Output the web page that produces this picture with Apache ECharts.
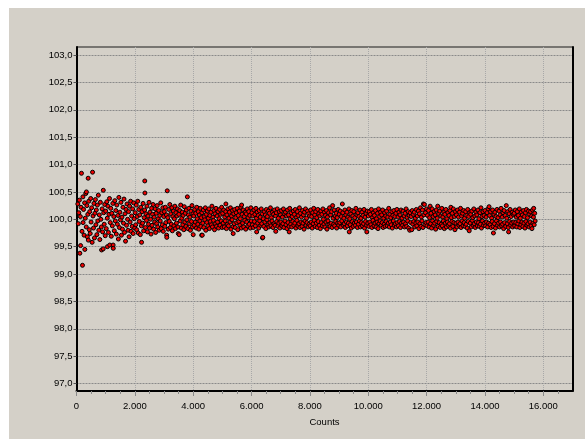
<!DOCTYPE html>
<html><head><meta charset="utf-8">
<script src="https://cdn.jsdelivr.net/npm/echarts@6/dist/echarts.min.js"></script>
<style>html,body{margin:0;padding:0;background:#fff}#c{width:585px;height:439px}</style>
</head><body><div id="c"></div>
<script>
const xTickLabels = [0, 2000, 4000, 6000, 8000, 10000, 12000, 14000, 16000];
const yTickLabels = [97.0, 97.5, 98.0, 98.5, 99.0, 99.5, 100.0, 100.5, 101.0, 101.5, 102.0, 102.5, 103.0];
const xAxisTitle = "Counts";

const seg00 = [[45,100.28],[62,99.92],[80,100.12],[98,100.35],[115,99.38],[132,100.05],[140,99.52],[155,100.22],[170,100.84],[188,99.78],[205,99.16],[220,100.41],[225,99.94],[242,100.18],[260,99.71],[278,100.30],[285,99.45],[300,100.02],[318,100.47],[334,99.86],[340,100.50],[356,100.25],[372,99.68],[388,100.09],[400,100.75],[405,99.62],[420,100.33],[438,99.81],[452,100.14],[470,99.74],[486,100.38],[500,99.95],[518,100.21],[535,99.58],[550,100.86],[566,100.06],[582,99.84],[598,100.29],[615,99.66],[632,100.11],[648,100.36],[665,99.90],[680,100.17],[698,99.72],[715,100.26],[730,99.97],[748,100.44],[765,99.80],[782,100.08],[800,99.63],[818,100.31],[835,100.00],[850,99.86],[860,99.44],[878,100.19],[895,99.77],[915,99.46],[918,100.53],[932,100.12],[950,99.91],[968,100.27],[985,99.70]];
const seg01 = [[1002,100.15],[1020,99.83],[1038,100.32],[1055,100.02],[1060,99.50],[1078,100.24],[1095,99.76],[1112,100.09],[1130,100.38],[1140,99.53],[1158,99.94],[1175,100.20],[1192,99.69],[1210,100.11],[1228,99.88],[1245,100.29],[1255,99.53],[1260,99.47],[1278,100.05],[1295,99.79],[1312,100.34],[1330,99.97],[1348,100.16],[1365,99.73],[1382,100.26],[1400,99.91],[1418,100.07],[1435,99.64],[1452,100.40],[1470,99.85],[1488,100.13],[1505,99.99],[1522,100.31],[1540,99.71],[1558,100.04],[1575,99.82],[1592,100.22],[1610,99.93],[1628,100.37],[1645,99.76],[1662,100.10],[1680,99.60],[1698,100.18],[1715,99.89],[1732,100.28],[1750,100.00],[1768,99.80],[1785,100.14],[1802,99.68],[1820,100.24],[1838,99.95],[1855,100.33],[1872,99.78],[1890,100.06],[1908,99.87],[1925,100.19],[1942,99.74],[1960,100.30],[1978,100.01],[1995,99.84]];
const seg02 = [[2012,100.12],[2030,99.90],[2048,100.26],[2065,99.81],[2082,100.05],[2100,100.33],[2118,99.75],[2135,100.18],[2152,99.96],[2170,100.08],[2188,99.72],[2205,100.22],[2222,99.88],[2230,99.58],[2248,100.14],[2265,99.93],[2282,100.29],[2300,99.79],[2318,100.03],[2335,100.17],[2340,100.70],[2345,100.48],[2362,99.85],[2380,100.10],[2398,99.98],[2415,100.24],[2432,99.77],[2450,100.06],[2468,99.91],[2485,100.31],[2502,99.84],[2520,100.13],[2538,100.00],[2555,99.73],[2572,100.20],[2590,99.89],[2608,100.09],[2625,100.27],[2642,99.82],[2660,100.04],[2678,99.95],[2695,100.19],[2712,99.76],[2730,100.11],[2748,99.92],[2765,100.25],[2782,99.86],[2800,100.01],[2818,100.16],[2835,99.80],[2852,100.07],[2870,99.97],[2888,100.30],[2905,99.83],[2922,100.12],[2940,99.90],[2958,100.21],[2975,99.78],[2992,100.05]];
const seg03 = [[3010,100.14],[3028,99.87],[3045,100.22],[3062,99.94],[3080,100.08],[3090,99.71],[3095,99.67],[3110,100.52],[3128,100.03],[3145,99.82],[3162,100.18],[3180,99.96],[3198,100.27],[3215,99.85],[3232,100.10],[3250,99.91],[3268,100.21],[3285,99.79],[3302,100.05],[3320,100.15],[3338,99.88],[3355,100.01],[3372,100.24],[3390,99.83],[3408,100.12],[3425,99.93],[3442,100.06],[3460,100.19],[3478,99.86],[3490,99.74],[3508,100.09],[3520,99.72],[3538,100.16],[3555,99.97],[3572,100.26],[3590,99.84],[3608,100.02],[3625,100.13],[3642,99.90],[3660,100.07],[3678,99.81],[3695,100.23],[3712,99.95],[3730,100.11],[3748,99.87],[3765,100.17],[3782,99.99],[3800,100.41],[3818,99.83],[3835,100.08],[3852,100.20],[3870,99.92],[3888,100.04],[3905,99.80],[3922,100.15],[3940,99.96],[3958,100.25],[3975,99.86],[3992,100.10]];
const seg04 = [[4000,99.72],[4018,100.06],[4035,99.89],[4052,100.18],[4070,99.95],[4088,100.11],[4105,99.84],[4122,100.22],[4140,100.01],[4158,99.91],[4175,100.14],[4192,99.82],[4210,100.08],[4228,99.97],[4245,100.20],[4262,99.87],[4280,100.03],[4290,99.71],[4298,100.12],[4310,99.71],[4328,99.93],[4345,100.17],[4362,99.85],[4380,100.05],[4398,99.99],[4415,100.21],[4432,99.80],[4450,100.09],[4468,99.94],[4485,100.15],[4502,99.88],[4520,100.02],[4538,100.19],[4555,99.83],[4572,100.07],[4590,99.96],[4608,100.13],[4625,99.90],[4642,100.24],[4660,99.86],[4678,100.04],[4695,99.98],[4712,100.16],[4730,99.81],[4748,100.10],[4765,99.92],[4782,100.20],[4800,99.87],[4818,100.06],[4835,99.95],[4852,100.14],[4870,99.84],[4888,100.01],[4905,100.18],[4922,99.89],[4940,100.09],[4958,99.97],[4975,100.22],[4992,99.85]];
const seg05 = [[5010,100.11],[5028,99.93],[5045,100.17],[5062,99.86],[5080,100.04],[5098,99.97],[5115,100.14],[5120,100.28],[5138,99.83],[5155,100.08],[5172,99.91],[5190,100.19],[5208,99.88],[5225,100.02],[5242,100.13],[5260,99.95],[5278,100.21],[5295,99.82],[5312,100.06],[5330,99.99],[5348,100.16],[5365,99.87],[5370,99.74],[5388,100.10],[5405,99.92],[5422,100.18],[5440,99.85],[5458,100.03],[5475,100.12],[5492,99.94],[5510,100.20],[5528,99.81],[5545,100.07],[5562,99.96],[5580,100.15],[5598,99.89],[5615,100.01],[5632,100.22],[5650,99.84],[5660,100.26],[5678,100.09],[5695,99.93],[5712,100.17],[5730,99.86],[5748,100.05],[5765,99.98],[5782,100.13],[5800,99.82],[5818,100.10],[5835,99.95],[5852,100.19],[5870,99.88],[5888,100.03],[5905,100.14],[5922,99.91],[5940,100.07],[5958,99.84],[5975,100.21],[5992,99.97]];
const seg06 = [[6010,100.12],[6028,99.90],[6045,100.06],[6062,99.85],[6080,100.17],[6098,99.96],[6115,100.09],[6132,99.88],[6150,100.20],[6168,100.02],[6175,99.77],[6192,100.13],[6210,99.93],[6228,100.07],[6245,99.84],[6262,100.16],[6280,99.97],[6298,100.04],[6315,99.89],[6332,100.19],[6350,99.92],[6368,100.10],[6375,99.66],[6385,99.67],[6402,100.01],[6420,99.87],[6438,100.14],[6455,99.95],[6472,100.08],[6490,99.83],[6508,100.18],[6525,99.99],[6542,100.05],[6560,99.90],[6578,100.15],[6595,99.86],[6612,100.11],[6630,99.94],[6648,100.21],[6665,99.88],[6682,100.03],[6700,99.97],[6718,100.13],[6735,99.85],[6752,100.09],[6770,99.92],[6788,100.17],[6805,99.89],[6822,100.06],[6830,99.78],[6848,100.12],[6865,99.96],[6882,100.19],[6900,99.87],[6918,100.02],[6935,99.93],[6952,100.14],[6970,99.84],[6988,100.08]];
const seg07 = [[7005,99.95],[7022,100.16],[7040,99.88],[7058,100.04],[7075,99.92],[7092,100.19],[7110,99.85],[7128,100.10],[7145,99.97],[7162,100.13],[7180,99.90],[7198,100.06],[7215,99.83],[7232,100.17],[7250,99.94],[7268,100.08],[7285,99.87],[7290,99.77],[7308,100.20],[7325,100.01],[7342,99.91],[7360,100.12],[7378,99.86],[7395,100.05],[7412,99.96],[7430,100.15],[7448,99.89],[7465,100.09],[7482,99.93],[7500,100.18],[7518,99.84],[7535,100.03],[7552,99.98],[7570,100.14],[7588,99.88],[7605,100.07],[7622,99.92],[7640,100.21],[7658,99.85],[7675,100.11],[7692,99.95],[7710,100.04],[7728,99.87],[7745,100.16],[7762,99.93],[7780,100.08],[7798,99.82],[7815,100.13],[7832,99.97],[7850,100.19],[7868,99.89],[7885,100.02],[7902,99.94],[7920,100.15],[7938,99.86],[7955,100.10],[7972,99.91],[7990,100.06]];
const seg08 = [[8008,99.88],[8025,100.17],[8042,99.95],[8060,100.05],[8078,99.84],[8095,100.12],[8112,99.92],[8130,100.20],[8148,99.98],[8165,100.08],[8182,99.87],[8200,100.14],[8218,99.93],[8235,100.03],[8252,99.85],[8270,100.18],[8288,99.96],[8305,100.10],[8322,99.89],[8340,100.06],[8358,99.83],[8375,100.15],[8392,99.94],[8410,100.09],[8428,99.88],[8445,100.19],[8462,100.00],[8480,99.91],[8498,100.13],[8515,99.86],[8532,100.07],[8550,99.95],[8568,100.16],[8585,99.82],[8602,100.04],[8620,99.97],[8638,100.12],[8655,99.90],[8672,100.21],[8690,99.87],[8708,100.08],[8725,99.93],[8742,100.14],[8760,99.85],[8778,100.25],[8795,100.02],[8812,99.91],[8830,100.17],[8848,99.88],[8865,100.06],[8882,99.96],[8900,100.11],[8918,99.84],[8935,100.03],[8952,99.93],[8970,100.18],[8988,99.89]];
const seg09 = [[9005,100.09],[9022,99.94],[9040,100.15],[9058,99.86],[9075,100.05],[9092,99.97],[9112,100.28],[9128,100.12],[9145,99.89],[9162,100.02],[9180,99.92],[9198,100.17],[9215,99.85],[9232,100.08],[9250,99.95],[9268,100.13],[9285,99.88],[9302,100.04],[9320,99.93],[9338,100.19],[9348,99.77],[9365,100.01],[9382,99.90],[9400,100.10],[9418,99.84],[9435,100.16],[9452,99.96],[9470,100.06],[9488,99.87],[9505,100.14],[9522,99.93],[9540,100.03],[9558,99.89],[9575,100.20],[9592,99.95],[9610,100.08],[9628,99.85],[9645,100.12],[9662,99.91],[9680,100.05],[9698,99.97],[9715,100.17],[9732,99.86],[9750,100.02],[9768,99.94],[9785,100.13],[9802,99.88],[9820,100.07],[9838,99.92],[9855,100.18],[9872,99.84],[9890,100.04],[9908,99.96],[9925,100.11],[9942,99.89],[9950,99.77],[9968,100.15],[9985,99.93]];
const seg10 = [[10002,100.06],[10020,99.87],[10038,100.14],[10055,99.95],[10072,100.09],[10090,99.90],[10108,100.18],[10125,99.85],[10142,100.03],[10160,99.98],[10178,100.12],[10195,99.88],[10212,100.07],[10230,99.93],[10248,100.16],[10265,99.86],[10282,100.01],[10300,99.95],[10318,100.11],[10335,99.83],[10352,100.19],[10370,99.92],[10388,100.05],[10405,99.97],[10422,100.13],[10440,99.89],[10458,100.08],[10475,99.94],[10492,100.17],[10510,99.85],[10528,100.02],[10545,99.91],[10562,100.12],[10580,99.87],[10598,100.06],[10615,99.96],[10632,100.15],[10650,99.88],[10668,100.04],[10685,99.93],[10702,100.20],[10720,99.86],[10738,100.09],[10755,99.95],[10772,100.03],[10790,99.90],[10808,100.14],[10825,99.84],[10842,100.07],[10860,99.97],[10878,100.16],[10895,99.89],[10912,100.05],[10930,99.92],[10948,100.11],[10965,99.86],[10982,100.18],[10998,99.94]];
const seg11 = [[11018,100.04],[11035,99.88],[11052,100.13],[11070,99.96],[11088,100.08],[11105,99.85],[11122,100.17],[11140,99.93],[11158,100.02],[11175,99.89],[11192,100.15],[11210,99.95],[11228,100.06],[11245,99.86],[11262,100.11],[11280,99.92],[11298,100.19],[11315,99.87],[11332,100.03],[11350,99.97],[11368,100.14],[11385,99.84],[11402,100.07],[11420,99.80],[11438,100.12],[11455,99.94],[11472,100.05],[11490,99.81],[11508,100.16],[11525,99.91],[11542,100.09],[11560,99.96],[11578,100.13],[11595,99.86],[11612,100.02],[11630,99.93],[11648,100.18],[11665,99.88],[11682,100.06],[11700,99.95],[11718,100.15],[11735,99.83],[11752,100.10],[11770,99.92],[11788,100.21],[11805,99.87],[11822,100.04],[11840,99.97],[11858,100.17],[11875,99.85],[11890,100.28],[11908,100.08],[11925,100.27],[11942,99.90],[11960,100.12],[11978,99.94],[11995,100.19]];
const seg12 = [[12012,99.88],[12030,100.07],[12048,99.95],[12065,100.16],[12082,99.86],[12100,100.03],[12120,100.24],[12135,99.92],[12152,100.11],[12170,99.84],[12188,100.19],[12205,99.97],[12222,100.05],[12240,99.89],[12258,100.14],[12275,99.93],[12292,100.08],[12310,99.82],[12328,100.17],[12345,99.96],[12362,100.02],[12380,100.24],[12398,99.87],[12415,100.10],[12432,99.94],[12450,100.15],[12468,99.85],[12485,100.06],[12502,99.91],[12520,100.20],[12538,99.88],[12555,100.04],[12572,99.97],[12590,100.13],[12608,99.83],[12625,100.09],[12642,99.93],[12660,100.18],[12678,99.86],[12695,100.01],[12712,99.95],[12730,100.12],[12748,99.89],[12765,100.07],[12782,99.92],[12800,100.16],[12818,99.84],[12830,100.22],[12848,100.03],[12865,99.96],[12882,100.11],[12900,99.87],[12918,100.19],[12935,99.94],[12952,100.05],[12970,99.81],[12988,100.14]];
const seg13 = [[13005,99.93],[13022,100.08],[13040,99.86],[13058,100.17],[13075,99.95],[13092,100.04],[13110,99.89],[13128,100.13],[13145,99.92],[13162,100.20],[13180,99.85],[13198,100.06],[13215,99.97],[13232,100.11],[13250,99.88],[13268,100.16],[13285,99.94],[13302,100.02],[13320,99.87],[13338,100.14],[13355,99.91],[13372,100.07],[13390,99.84],[13408,100.18],[13425,99.96],[13442,100.05],[13460,99.79],[13478,100.12],[13495,99.93],[13512,100.09],[13530,99.86],[13548,100.15],[13565,99.98],[13582,100.03],[13600,99.89],[13618,100.19],[13635,99.92],[13652,100.06],[13670,99.85],[13688,100.13],[13705,99.95],[13722,100.08],[13740,99.88],[13758,100.17],[13775,99.94],[13792,100.01],[13810,99.87],[13828,100.12],[13845,99.91],[13862,100.21],[13880,99.84],[13898,100.05],[13915,99.97],[13932,100.14],[13950,99.89],[13968,100.07],[13985,99.93]];
const seg14 = [[14002,100.16],[14020,99.88],[14038,100.04],[14055,99.95],[14072,100.12],[14090,99.86],[14108,100.19],[14125,99.93],[14140,100.23],[14158,100.07],[14175,99.90],[14192,100.14],[14210,99.85],[14228,100.02],[14245,99.96],[14262,100.17],[14280,99.87],[14290,99.75],[14308,100.09],[14325,99.92],[14342,100.13],[14360,99.84],[14378,100.05],[14395,99.97],[14412,100.18],[14430,99.89],[14448,100.03],[14465,99.93],[14482,100.15],[14500,99.86],[14518,100.08],[14535,99.95],[14552,100.20],[14570,99.88],[14588,100.04],[14605,99.91],[14622,100.12],[14640,99.83],[14658,100.16],[14675,99.94],[14692,100.07],[14710,99.87],[14730,100.25],[14748,100.02],[14765,99.92],[14782,100.14],[14800,99.85],[14810,99.77],[14828,100.10],[14845,99.96],[14862,100.18],[14880,99.89],[14898,100.05],[14915,99.93],[14932,100.13],[14950,99.86],[14968,100.09],[14985,99.95]];
const seg15 = [[15002,100.11],[15020,99.88],[15038,100.17],[15055,99.94],[15072,100.04],[15090,99.86],[15108,100.14],[15125,99.92],[15142,100.07],[15160,99.97],[15178,100.19],[15195,99.85],[15212,100.02],[15230,99.90],[15248,100.13],[15265,99.95],[15282,100.08],[15300,99.87],[15318,100.16],[15335,99.93],[15352,100.05],[15370,99.84],[15388,100.12],[15405,99.96],[15422,100.18],[15440,99.89],[15458,100.03],[15475,99.92],[15492,100.15],[15510,99.86],[15528,100.09],[15545,99.95],[15562,100.14],[15580,99.88],[15598,100.06],[15610,99.83],[15628,100.17],[15645,99.93],[15662,100.04],[15670,100.20],[15688,99.90],[15705,100.11],[15720,99.97]];

const points = [].concat(seg00, seg01, seg02, seg03, seg04, seg05, seg06, seg07, seg08, seg09, seg10, seg11, seg12, seg13, seg14, seg15);

const FONT = 'Liberation Sans, Arial, sans-serif';
function fmtX(v) { return String(Math.round(v)).replace(/\B(?=(\d{3})+(?!\d))/g, '.'); }
function fmtY(v) { return v.toFixed(1).replace('.', ','); }

const chart = echarts.init(document.getElementById('c'), null, { renderer: 'canvas' });
const Y_MIN = 96.865, Y_MAX = 103.146;
chart.setOption({
  backgroundColor: 'transparent',
  animation: false,
  graphic: [{ type: 'rect', z: -10, shape: { x: 9, y: 8, width: 576, height: 431 }, style: { fill: '#d4d0c8' } }],
  grid: { left: 76.5, top: 47, width: 496, height: 344, show: true, borderColor: '#1a1a1a', borderWidth: 1, backgroundColor: 'transparent' },
  xAxis: {
    type: 'value', min: 0, max: 17000, interval: 2000,
    name: xAxisTitle, nameLocation: 'middle', nameGap: 26,
    nameTextStyle: { fontFamily: FONT, fontSize: 9.5, color: '#000' },
    axisLine: { show: true, onZero: false, lineStyle: { color: '#000', width: 2 } },
    axisTick: { show: true, length: 5, lineStyle: { color: '#888', width: 1 }, customValues: xTickLabels },
    minorTick: { show: true, splitNumber: 4, length: 3, lineStyle: { color: '#888' } },
    axisLabel: { fontFamily: FONT, fontSize: 9.5, color: '#000', margin: 10, formatter: fmtX, customValues: xTickLabels },
    splitLine: { show: true, lineStyle: { color: '#a8a8a8', width: 1, type: [1, 1] } }
  },
  yAxis: [{
    type: 'value', min: Y_MIN, max: Y_MAX,
    axisLine: { show: true, onZero: false, lineStyle: { color: '#000', width: 2 } },
    axisTick: { show: true, length: 3, lineStyle: { color: '#555' }, customValues: yTickLabels },
    axisLabel: { fontFamily: FONT, fontSize: 9.5, color: '#000', margin: 4, formatter: fmtY, customValues: yTickLabels },
    splitLine: { show: true, lineStyle: { color: '#8a8a8a', width: 1, type: [2, 1] } }
  }, {
    type: 'value', min: Y_MIN, max: Y_MAX, position: 'right',
    axisLine: { show: true, onZero: false, lineStyle: { color: '#000', width: 2 } },
    axisTick: { show: false }, axisLabel: { show: false }, splitLine: { show: false }
  }],
  series: [{
    type: 'scatter', yAxisIndex: 0, data: points,
    symbol: 'circle', symbolSize: 4,
    itemStyle: { color: '#ee0000', borderColor: '#000', borderWidth: 1, opacity: 1 },
    emphasis: { disabled: true }
  }]
});
</script></body></html>
